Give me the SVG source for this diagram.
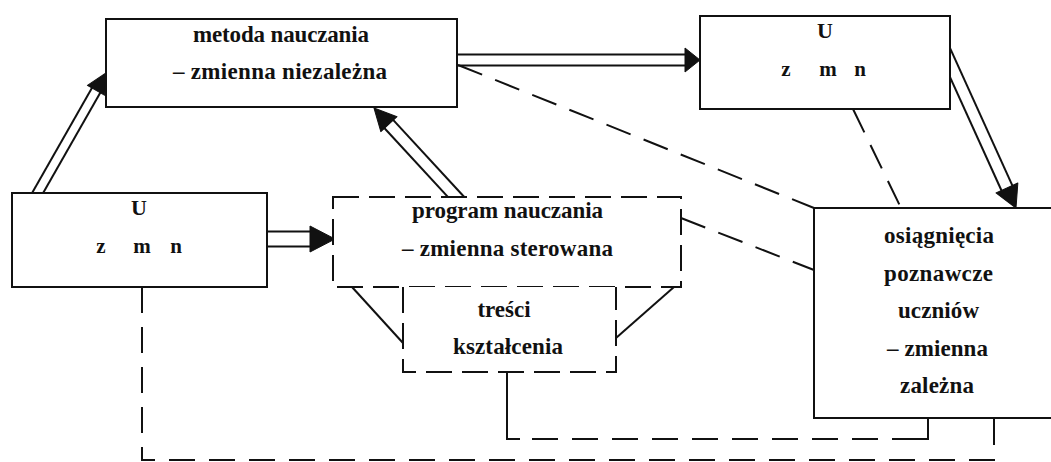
<svg xmlns="http://www.w3.org/2000/svg" width="1051" height="462" viewBox="0 0 1051 462">
<style>
.box{fill:#fff;stroke:#111;stroke-width:2}
.dbox{fill:#fff;stroke:#111;stroke-width:2;stroke-dasharray:26 10}
.ln{fill:none;stroke:#111;stroke-width:2}
.dash{fill:none;stroke:#111;stroke-width:2;stroke-dasharray:26 14}
.head{fill:#111;stroke:#111;stroke-width:1;stroke-linejoin:round}
text{font-family:"Liberation Serif","Times New Roman",serif;font-size:23px;font-weight:bold;fill:#111;text-anchor:middle}
.let{font-size:21px}
.cap{font-size:22px}
</style>
<rect width="1051" height="462" fill="#fff"/>
<g id="connectors">
  <g transform="translate(106,73) rotate(-60.3)">
    <line class="ln" x1="-150" y1="-4.8" x2="-18" y2="-4.8"/>
    <line class="ln" x1="-150" y1="4.8" x2="-18" y2="4.8"/>
    <polygon class="head" points="0,0 -20,-10 -20,10"/>
  </g>
  <g transform="translate(374,108) rotate(-132.7)">
    <line class="ln" x1="-130" y1="-6" x2="-20" y2="-6"/>
    <line class="ln" x1="-130" y1="6" x2="-20" y2="6"/>
    <polygon class="head" points="0,0 -22,-11 -22,11"/>
  </g>
  <g transform="translate(700,60) rotate(0)">
    <line class="ln" x1="-250" y1="-5.5" x2="-13" y2="-5.5"/>
    <line class="ln" x1="-250" y1="5.5" x2="-13" y2="5.5"/>
    <polygon class="head" points="0,0 -15,-12 -15,12"/>
  </g>
  <g transform="translate(1016,208) rotate(65.6)">
    <line class="ln" x1="-180" y1="-6" x2="-20" y2="-6"/>
    <line class="ln" x1="-180" y1="6" x2="-20" y2="6"/>
    <polygon class="head" points="0,0 -22,-12 -22,12"/>
  </g>
  <g transform="translate(335,239) rotate(0)">
    <line class="ln" x1="-80" y1="-7.5" x2="-23" y2="-7.5"/>
    <line class="ln" x1="-80" y1="7.5" x2="-23" y2="7.5"/>
    <polygon class="head" points="0,0 -25,-13 -25,13"/>
  </g>
  <line class="dash" x1="458" y1="65" x2="814" y2="208"/>
  <line class="dash" x1="853" y1="109" x2="901" y2="208"/>
  <line class="dash" x1="681" y1="218" x2="814" y2="270"/>
  <path class="dash" d="M142,287 V460 H994 V418"/>
  <path class="ln" d="M507,372 V439 H520"/>
  <line class="dash" x1="532" y1="439" x2="912" y2="439"/>
  <path class="ln" d="M912,439 H928 V418"/>
  <line class="ln" x1="352" y1="287" x2="403" y2="343"/>
  <line class="ln" x1="674" y1="287" x2="616" y2="338"/>
</g>
<g id="metoda">
  <rect class="box" x="106" y="19" width="351" height="88"/>
  <text x="281" y="42" textLength="176" lengthAdjust="spacing">metoda nauczania</text>
  <text x="280" y="79" textLength="214" lengthAdjust="spacing">– zmienna niezależna</text>
</g>
<g id="u-top">
  <rect class="box" x="700" y="16" width="250" height="93"/>
  <text class="cap" x="825" y="38">U</text>
  <text class="let" x="786" y="76">z</text>
  <text class="let" x="828" y="76">m</text>
  <text class="let" x="860" y="76">n</text>
</g>
<g id="u-left">
  <rect class="box" x="12" y="193" width="255" height="94"/>
  <text class="cap" x="139" y="215">U</text>
  <text class="let" x="101" y="253">z</text>
  <text class="let" x="142" y="253">m</text>
  <text class="let" x="176" y="253">n</text>
</g>
<g id="program">
  <rect class="dbox" x="333" y="197" width="348" height="90"/>
  <text x="507.5" y="218" textLength="191" lengthAdjust="spacing">program nauczania</text>
  <text x="507.5" y="256" textLength="211" lengthAdjust="spacing">– zmienna sterowana</text>
</g>
<g id="tresci">
  <path class="dbox" d="M403,287 V372 H616 V287"/>
  <text x="504" y="317">treści</text>
  <text x="508" y="354" textLength="110" lengthAdjust="spacing">kształcenia</text>
</g>
<g id="osiagniecia">
  <rect class="box" x="814" y="208" width="250" height="210"/>
  <text x="939" y="243" textLength="110" lengthAdjust="spacing">osiągnięcia</text>
  <text x="938.5" y="281" textLength="109" lengthAdjust="spacing">poznawcze</text>
  <text x="938.5" y="318" textLength="81" lengthAdjust="spacing">uczniów</text>
  <text x="937.5" y="356" textLength="101" lengthAdjust="spacing">– zmienna</text>
  <text x="937" y="393" textLength="74" lengthAdjust="spacing">zależna</text>
</g>
</svg>
